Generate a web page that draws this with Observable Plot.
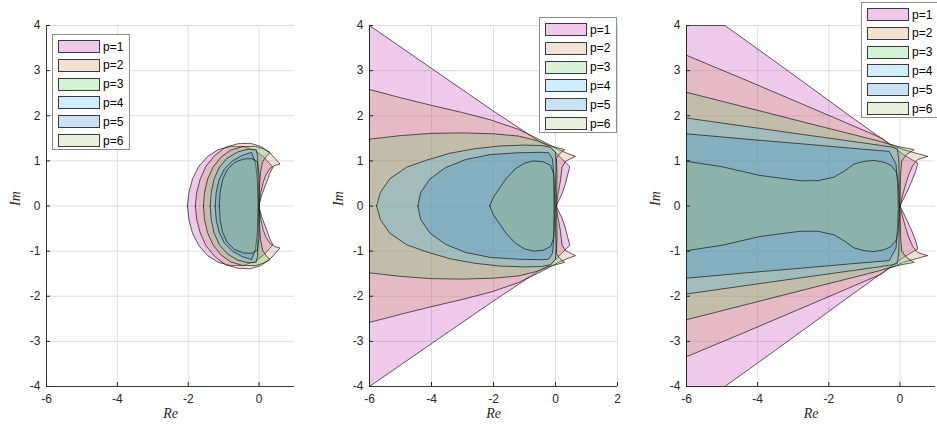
<!DOCTYPE html>
<html>
<head>
<meta charset="utf-8">
<script src="https://cdn.jsdelivr.net/npm/d3@7"></script>
<script src="https://cdn.jsdelivr.net/npm/@observablehq/plot@0.6"></script>
<style>
  body { margin: 0; background: #fff; }
  #fig { position: relative; width: 937px; height: 428px; overflow: hidden; font-family: "Liberation Sans", Arial, sans-serif; }
  .panel { position: absolute; top: 0; }
  .legend { position: absolute; background: #fff; border: 1px solid #8c8c8c; box-sizing: border-box; width: 78px; height: 116px; }
  .legend .sw { position: absolute; left: 5px; width: 42px; height: 13px; box-sizing: border-box; border: 1px solid #3a3a3a; }
  .legend .lb { position: absolute; left: 50px; font-size: 12px; line-height: 14px; color: #000; }
</style>
</head>
<body>
<div id="fig"></div>
<script>
// Orders shown in every panel
const orders = ["p=1", "p=2", "p=3", "p=4", "p=5", "p=6"];

// Axis ticks
const yTicks = [-4, -3, -2, -1, 0, 1, 2, 3, 4];
const xTicksLeft = [-6, -4, -2, 0];
const xTicksMid = [-6, -4, -2, 0, 2];
const xTicksRight = [-6, -4, -2, 0];

// Upper halves (Im >= 0) of each stability boundary, traced from the
// leftmost real-axis point over the top to the tip and back to the axis.
// Left panel
const leftP1 = [[-2.02,0],[-1.98,0.3],[-1.88,0.6],[-1.7,0.88],[-1.45,1.1],[-1.15,1.25],[-0.8,1.32],[-0.45,1.32],[-0.1,1.22],[0.15,1.07],[0.39,0.86],[0.3,0.72],[0.23,0.56],[0.14,0.38],[0.06,0.2],[0.01,0.05],[0,0]];
const leftP2 = [[-1.8,0],[-1.76,0.3],[-1.66,0.6],[-1.5,0.88],[-1.25,1.12],[-0.95,1.3],[-0.6,1.38],[-0.25,1.39],[0.05,1.32],[0.33,1.16],[0.59,0.93],[0.45,0.9],[0.32,0.84],[0.2,0.7],[0.12,0.54],[0.05,0.3],[0.01,0.1],[0,0]];
const leftP3 = [[-1.57,0],[-1.54,0.3],[-1.45,0.6],[-1.3,0.86],[-1.08,1.08],[-0.8,1.24],[-0.45,1.32],[-0.1,1.32],[0.12,1.27],[0.31,1.19],[0.2,1.1],[0.1,0.98],[0.04,0.75],[0.01,0.4],[0,0]];
const leftP4 = [[-1.38,0],[-1.35,0.3],[-1.27,0.6],[-1.12,0.86],[-0.9,1.06],[-0.6,1.2],[-0.3,1.26],[-0.08,1.25],[-0.04,1.1],[-0.03,0.6],[-0.02,0]];
const leftP5 = [[-1.24,0],[-1.21,0.3],[-1.13,0.58],[-0.98,0.82],[-0.75,1.0],[-0.48,1.12],[-0.21,1.19],[-0.1,0.95],[-0.05,0.6],[-0.03,0]];
const leftP6 = [[-1.12,0],[-1.1,0.3],[-1.03,0.58],[-0.9,0.8],[-0.7,0.96],[-0.45,1.04],[-0.2,1.05],[-0.05,0.98],[0,0.7],[0,0]];

// Middle panel
const midP1 = [[-6,0],[-6,4],[-4,3.05],[-2.1,2.15],[-1.2,1.74],[-0.5,1.42],[-0.2,1.32],[0.1,1.12],[0.3,0.98],[0.46,0.875],[0.4,0.71],[0.32,0.49],[0.21,0.27],[0.07,0.07],[0.03,0]];
const midP2 = [[-6,0],[-6,2.58],[-5,2.4],[-4,2.23],[-3,2.07],[-2.1,1.91],[-1.2,1.7],[-0.6,1.5],[-0.2,1.36],[0.1,1.25],[0.4,1.16],[0.645,1.1],[0.32,0.99],[0.21,0.86],[0.16,0.56],[0.07,0.22],[0.03,0]];
const midP3 = [[-6,0],[-6,1.48],[-5,1.56],[-4,1.61],[-3,1.62],[-2,1.6],[-1.2,1.55],[-0.6,1.45],[-0.2,1.34],[0.29,1.25],[0.12,1.15],[0.03,1.05],[0.05,0.7],[0.04,0.35],[0.02,0]];
const midP4 = [[-5.77,0],[-5.65,0.3],[-5.35,0.6],[-4.8,0.86],[-4.14,1.02],[-3.4,1.17],[-2.6,1.27],[-1.8,1.33],[-1.0,1.35],[-0.45,1.34],[-0.15,1.3],[0,1.18],[0.02,0.9],[0,0.5],[-0.02,0]];
const midP5 = [[-4.44,0],[-4.35,0.3],[-4.05,0.6],[-3.55,0.85],[-2.9,1.03],[-2.1,1.14],[-1.2,1.18],[-0.5,1.19],[-0.22,1.18],[-0.1,1.05],[-0.07,0.85],[-0.06,0.4],[-0.05,0]];
const midP6 = [[-2.12,0],[-2.0,0.2],[-1.8,0.4],[-1.6,0.6],[-1.3,0.82],[-1.0,0.95],[-0.7,1.0],[-0.4,0.98],[-0.16,0.9],[-0.05,0.7],[-0.03,0.3],[-0.02,0]];

// Right panel
const rightP1 = [[-6,0],[-6,4],[-4.92,4],[-3.7,3.31],[-2.51,2.63],[-1.5,2.05],[-0.6,1.54],[-0.3,1.37],[0.1,1.14],[0.5,0.95],[0.45,0.79],[0.36,0.6],[0.26,0.42],[0.14,0.22],[0.03,0.05],[0.01,0]];
const rightP2 = [[-6,0],[-6,3.34],[-4.3,2.78],[-2.51,2.18],[-1.5,1.84],[-0.5,1.5],[-0.3,1.38],[0.1,1.25],[0.45,1.17],[0.78,1.1],[0.5,1.03],[0.36,0.9],[0.25,0.7],[0.15,0.45],[0.06,0.2],[0.01,0]];
const rightP3 = [[-6,0],[-6,2.52],[-4.3,2.18],[-2.51,1.82],[-1.5,1.62],[-0.6,1.44],[-0.3,1.37],[0.05,1.3],[0.4,1.25],[0.2,1.15],[0.05,1.0],[0.02,0.7],[0.01,0.35],[0,0]];
const rightP4 = [[-6,0],[-6,1.95],[-4.3,1.76],[-2.51,1.56],[-1.5,1.45],[-0.6,1.35],[-0.2,1.3],[-0.07,1.27],[-0.03,1.0],[-0.02,0.5],[-0.02,0]];
const rightP5 = [[-6,0],[-6,1.6],[-4.3,1.48],[-2.79,1.38],[-1.5,1.29],[-0.3,1.21],[-0.11,0.93],[-0.07,0.5],[-0.05,0]];
const rightP6 = [[-6,0],[-6,0.99],[-5,0.87],[-3.96,0.68],[-3.3,0.61],[-2.79,0.56],[-2.3,0.56],[-1.85,0.64],[-1.55,0.78],[-1.29,0.93],[-1.0,0.99],[-0.72,1.01],[-0.45,0.97],[-0.25,0.9],[-0.1,0.75],[-0.05,0.55],[-0.03,0.3],[-0.02,0]];

// Face colours (drawn translucent) for p = 1..6
const faceColors = ["#bf27ab", "#cb8b5b", "#57cb5b", "#43bbeb", "#2787cb", "#a3bf73"];
const faceAlpha = 0.25;
const ink = "#262626";
const plainNumber = (d) => String(d); // hyphen-minus, as in the original figure

// The boundaries are symmetric about the real axis: close each outline
// with the reflected lower half.
function outline(upper) {
  const lower = upper.slice().reverse().map(([x, y]) => [x, -y]);
  return upper.concat(lower).map(([x, y]) => ({re: x, im: y}));
}

function stabilityPlot({regions, xDomain, xTicks, width, marginLeft, marginRight}) {
  const yDomain = [yTicks[0], yTicks[yTicks.length - 1]];
  return Plot.plot({
    width,
    height: 428,
    marginTop: 25,
    marginBottom: 42,
    marginLeft,
    marginRight,
    x: {domain: xDomain},
    y: {domain: yDomain},
    marks: [
      Plot.gridX(xTicks, {stroke: "#dfdfdf", strokeOpacity: 1}),
      Plot.gridY(yTicks, {stroke: "#dfdfdf", strokeOpacity: 1}),
      ...regions.map((upper, i) => Plot.line(outline(upper), {
        x: "re", y: "im", curve: "linear-closed",
        fill: faceColors[i], fillOpacity: faceAlpha,
        stroke: "#111", strokeOpacity: 0.75, strokeWidth: 0.9
      })),
      Plot.ruleX([xDomain[0]], {stroke: ink, strokeWidth: 0.9}),
      Plot.ruleY([yDomain[0]], {stroke: ink, strokeWidth: 0.9}),
      Plot.axisX(xTicks, {tickSize: -4, tickPadding: 12, tickFormat: plainNumber, label: null, stroke: ink, color: ink, fontSize: 12}),
      Plot.axisY(yTicks, {tickSize: -4, tickPadding: 10, tickFormat: plainNumber, label: null, stroke: ink, color: ink, fontSize: 12}),
      Plot.text(["Re"], {frameAnchor: "bottom", dy: 31, fontFamily: "Liberation Serif, serif", fontStyle: "italic", fontSize: 14, fill: ink}),
      Plot.text(["Im"], {frameAnchor: "left", dx: -31, rotate: -90, fontFamily: "Liberation Serif, serif", fontStyle: "italic", fontSize: 14, fill: ink})
    ],
    style: {fontFamily: "Liberation Sans, Arial, sans-serif", fontSize: "12px", color: ink, background: "transparent", overflow: "visible"}
  });
}

const panels = [
  {left: 0, width: 310, marginLeft: 46, marginRight: 16, xDomain: [-6, 1], xTicks: xTicksLeft,
   regions: [leftP1, leftP2, leftP3, leftP4, leftP5, leftP6], legend: {left: 52, top: 34}},
  {left: 310, width: 320, marginLeft: 59, marginRight: 13, xDomain: [-6, 2], xTicks: xTicksMid,
   regions: [midP1, midP2, midP3, midP4, midP5, midP6], legend: {left: 539, top: 17}},
  {left: 625, width: 312, marginLeft: 61, marginRight: 2, xDomain: [-6, 1], xTicks: xTicksRight,
   regions: [rightP1, rightP2, rightP3, rightP4, rightP5, rightP6], legend: {left: 861, top: 2}}
];

const fig = document.getElementById("fig");
for (const p of panels) {
  const svg = stabilityPlot(p);
  svg.classList.add("panel");
  svg.style.left = p.left + "px";
  fig.appendChild(svg);
}

// Legends drawn on top of the axes
for (const p of panels) {
  const box = document.createElement("div");
  box.className = "legend";
  box.style.left = p.legend.left + "px";
  box.style.top = p.legend.top + "px";
  orders.forEach((name, i) => {
    const cy = 11.5 + i * 18.8;
    const sw = document.createElement("div");
    sw.className = "sw";
    sw.style.top = (cy - 6.5) + "px";
    sw.style.background = d3.interpolateRgb("#ffffff", faceColors[i])(faceAlpha);
    const lb = document.createElement("div");
    lb.className = "lb";
    lb.style.top = (cy - 7) + "px";
    lb.textContent = name;
    box.appendChild(sw);
    box.appendChild(lb);
  });
  fig.appendChild(box);
}
</script>
</body>
</html>
